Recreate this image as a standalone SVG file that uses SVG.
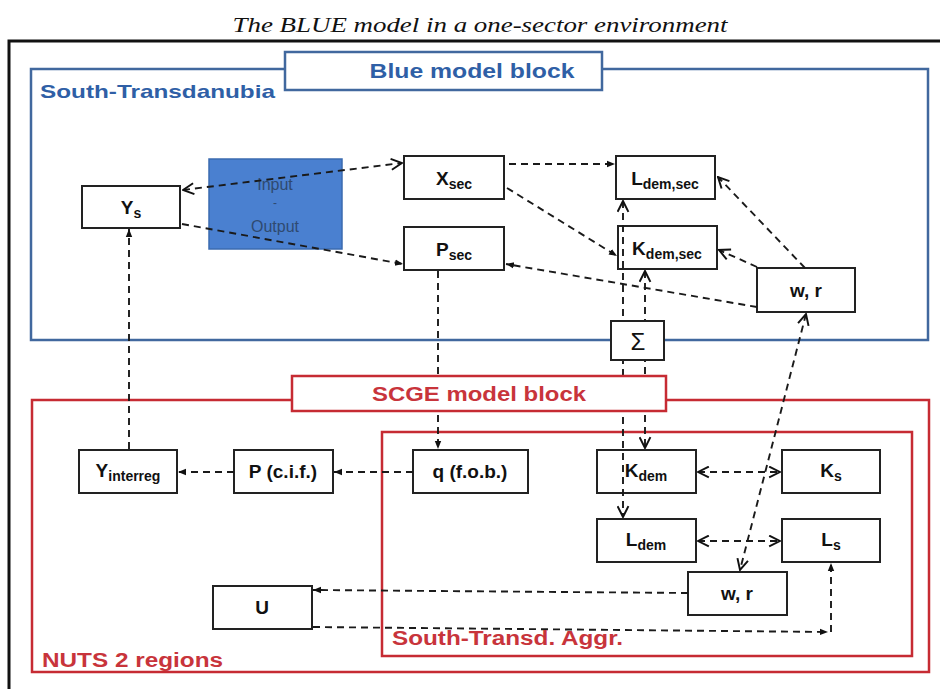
<svg xmlns="http://www.w3.org/2000/svg" width="940" height="689" viewBox="0 0 940 689">
<style>
.title{font-family:"Liberation Serif",serif;font-style:italic;font-size:21px;fill:#111}
.node rect{fill:#fff;stroke:#222;stroke-width:2}
.lbl{font-family:"Liberation Sans",Arial,sans-serif;font-weight:bold;font-size:19px;fill:#111;text-anchor:middle}
.sub{font-size:14px}
.blueT{font-family:"Liberation Sans",Arial,sans-serif;font-weight:bold;fill:#2f5fa6}
.redT{font-family:"Liberation Sans",Arial,sans-serif;font-weight:bold;fill:#c8343b}
.con line,.con path{stroke:#1a1a1a;stroke-width:1.9;stroke-dasharray:7 5;fill:none}
.f{marker-end:url(#af)}
.o{marker-end:url(#ao)}
.oo{marker-start:url(#ao);marker-end:url(#ao)}
</style>
<defs>
<marker id="af" viewBox="0 0 10 10" refX="10" refY="5" markerWidth="8" markerHeight="8" markerUnits="userSpaceOnUse" orient="auto-start-reverse"><path d="M0,1 L10,5 L0,9 z" fill="#111"/></marker>
<marker id="ao" viewBox="0 0 12 12" refX="11" refY="6" markerWidth="13" markerHeight="13" markerUnits="userSpaceOnUse" orient="auto-start-reverse"><path d="M1,1 L11,6 L1,11" fill="none" stroke="#111" stroke-width="1.8"/></marker>
</defs>
<rect width="940" height="689" fill="#fff"/>
<text class="title" x="480" y="32" text-anchor="middle" textLength="495" lengthAdjust="spacingAndGlyphs">The BLUE model in a one-sector environment</text>
<g id="frames">
<path d="M9,689 V41 H940" fill="none" stroke="#111" stroke-width="3"/>
<rect x="31" y="69" width="897" height="271" fill="none" stroke="#41689e" stroke-width="2.5"/>
<rect x="32" y="400" width="897" height="272" fill="none" stroke="#c62b33" stroke-width="2.5"/>
<rect x="382" y="432" width="530" height="224" fill="none" stroke="#c62b33" stroke-width="2.5"/>
</g>
<g id="blue-block">
<rect x="285" y="52" width="317" height="38" fill="#fff" stroke="#41689e" stroke-width="2.5"/>
<text class="blueT" x="472" y="78" font-size="20" text-anchor="middle" textLength="205" lengthAdjust="spacingAndGlyphs">Blue model block</text>
<text class="blueT" x="40" y="98" font-size="19" textLength="235" lengthAdjust="spacingAndGlyphs">South-Transdanubia</text>
</g>
<g id="io">
<rect x="209" y="159" width="133" height="90" fill="#4a80d0" stroke="#3b6bb0" stroke-width="1.5"/>
<text x="275" y="190" font-family="Liberation Sans,Arial,sans-serif" font-size="16" fill="#2f4a70" text-anchor="middle">Input</text>
<text x="275" y="207" font-family="Liberation Sans,Arial,sans-serif" font-size="12" fill="#2f4a70" text-anchor="middle">-</text>
<text x="275" y="232" font-family="Liberation Sans,Arial,sans-serif" font-size="16" fill="#2f4a70" text-anchor="middle">Output</text>
</g>
<g id="Ys" class="node"><rect x="82" y="186" width="98" height="42"/><text class="lbl" x="131" y="214">Y<tspan class="sub" dy="4">s</tspan></text></g>
<g id="Xsec" class="node"><rect x="404" y="156" width="100" height="43"/><text class="lbl" x="454" y="185">X<tspan class="sub" dy="4">sec</tspan></text></g>
<g id="Psec" class="node"><rect x="404" y="227" width="100" height="43"/><text class="lbl" x="454" y="256">P<tspan class="sub" dy="4">sec</tspan></text></g>
<g id="Ldemsec" class="node"><rect x="616" y="156" width="99" height="43"/><text class="lbl" x="665" y="185">L<tspan class="sub" dy="4">dem,sec</tspan></text></g>
<g id="Kdemsec" class="node"><rect x="618" y="226" width="99" height="43"/><text class="lbl" x="667" y="255">K<tspan class="sub" dy="4">dem,sec</tspan></text></g>
<g id="wr1" class="node"><rect x="757" y="268" width="98" height="44"/><text class="lbl" x="806" y="297">w, r</text></g>
<g id="Yinterreg" class="node"><rect x="79" y="450" width="98" height="43"/><text class="lbl" x="128" y="477">Y<tspan class="sub" dy="4">interreg</tspan></text></g>
<g id="Pcif" class="node"><rect x="234" y="450" width="99" height="43"/><text class="lbl" x="283" y="478">P (c.i.f.)</text></g>
<g id="qfob" class="node"><rect x="413" y="450" width="115" height="43"/><text class="lbl" x="470" y="478">q (f.o.b.)</text></g>
<g id="Kdem" class="node"><rect x="597" y="450" width="99" height="43"/><text class="lbl" x="646" y="477">K<tspan class="sub" dy="4">dem</tspan></text></g>
<g id="Ks" class="node"><rect x="782" y="450" width="98" height="43"/><text class="lbl" x="831" y="477">K<tspan class="sub" dy="4">s</tspan></text></g>
<g id="Ldem" class="node"><rect x="597" y="519" width="99" height="43"/><text class="lbl" x="646" y="546">L<tspan class="sub" dy="4">dem</tspan></text></g>
<g id="Ls" class="node"><rect x="782" y="519" width="98" height="43"/><text class="lbl" x="831" y="546">L<tspan class="sub" dy="4">s</tspan></text></g>
<g id="wr2" class="node"><rect x="688" y="572" width="99" height="43"/><text class="lbl" x="737" y="600">w, r</text></g>
<g id="U" class="node"><rect x="213" y="586" width="99" height="43"/><text class="lbl" x="262" y="614">U</text></g>
<g id="connectors" class="con">
<line class="oo" x1="183" y1="190" x2="402" y2="163"/>
<line class="f" x1="182" y1="224" x2="403" y2="264"/>
<line class="f" x1="509" y1="164" x2="615" y2="164"/>
<line class="f" x1="507" y1="188" x2="617" y2="256"/>
<line class="f" x1="757" y1="307" x2="506" y2="264"/>
<line class="o" x1="757" y1="267" x2="719" y2="250"/>
<line class="o" x1="805" y1="268" x2="718" y2="177"/>
<line class="oo" x1="623" y1="201" x2="623" y2="517"/>
<line class="oo" x1="645" y1="271" x2="645" y2="448"/>
<line class="f" x1="438" y1="271" x2="438" y2="449"/>
<line class="f" x1="413" y1="472" x2="334" y2="472"/>
<line class="f" x1="234" y1="472" x2="178" y2="472"/>
<line class="f" x1="129" y1="449" x2="129" y2="229"/>
<line class="oo" x1="698" y1="472" x2="780" y2="472"/>
<line class="oo" x1="698" y1="541" x2="780" y2="541"/>
<line class="oo" x1="806" y1="314" x2="740" y2="570"/>
<line class="f" x1="688" y1="593" x2="313" y2="590"/>
<line class="f" x1="313" y1="627" x2="828" y2="632"/>
<line class="f" x1="831" y1="632" x2="831" y2="563"/>
</g>
<g id="sigma" class="node"><rect x="611" y="321" width="53" height="39"/><text x="638" y="350" font-family="Liberation Sans,Arial,sans-serif" font-size="24" fill="#111" text-anchor="middle">Σ</text></g>
<g id="scge-block">
<rect x="292" y="376" width="374" height="35" fill="#fff" stroke="#c62b33" stroke-width="2.5"/>
<text class="redT" x="479" y="401" font-size="21" text-anchor="middle" textLength="214" lengthAdjust="spacingAndGlyphs">SCGE model block</text>
<text class="redT" x="42" y="667" font-size="20" textLength="181" lengthAdjust="spacingAndGlyphs">NUTS 2 regions</text>
<text class="redT" x="392" y="645" font-size="20" textLength="231" lengthAdjust="spacingAndGlyphs">South-Transd. Aggr.</text>
</g>
</svg>
